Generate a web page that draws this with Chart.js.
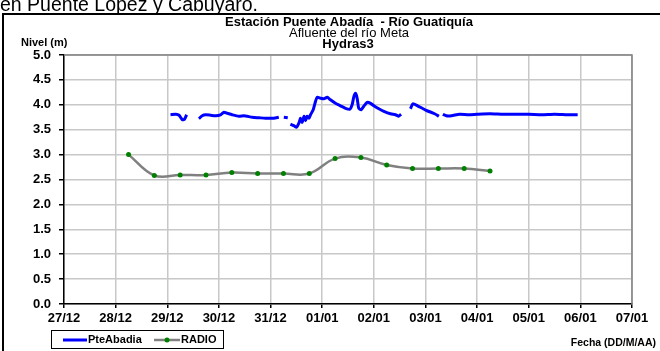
<!DOCTYPE html>
<html lang="es">
<head>
<meta charset="UTF-8">
<title>Estación Puente Abadía - Río Guatiquía</title>
<script src="https://cdn.jsdelivr.net/npm/chart.js"></script>
<style>
  html, body { margin: 0; padding: 0; background: #fff; }
  #wrap { width: 660px; height: 351px; }
</style>
</head>
<body>
<div id="wrap"><canvas id="nivelChart" width="660" height="351"></canvas></div>
<script>
// eje X: un tick por día
const tickLabels = ['27/12', '28/12', '29/12', '30/12', '31/12', '01/01', '02/01', '03/01', '04/01', '05/01', '06/01', '07/01'];
const yTicks = [0, 0.5, 1, 1.5, 2, 2.5, 3, 3.5, 4, 4.5, 5];

// PteAbadia (sensor), null = hueco en el registro
const abadiaTimes = [
  '29/12 01:30', '29/12 04:00', '29/12 05:30', '29/12 07:00', '29/12 08:00', '29/12 09:00',
  '29/12 12:00',
  '29/12 14:40', '29/12 16:15', '29/12 17:50', '29/12 20:10', '29/12 22:30', '30/12 00:45',
  '30/12 02:20', '30/12 03:50', '30/12 06:10', '30/12 09:15', '30/12 11:40', '30/12 13:10',
  '30/12 15:30', '30/12 18:35', '30/12 21:40', '31/12 01:30', '31/12 03:50',
  '31/12 05:00',
  '31/12 06:10', '31/12 08:00',
  '31/12 08:40',
  '31/12 09:15', '31/12 10:50', '31/12 12:05', '31/12 13:10', '31/12 13:55', '31/12 14:45',
  '31/12 15:30', '31/12 16:15', '31/12 17:00', '31/12 17:50', '31/12 18:35', '31/12 19:50',
  '31/12 20:55', '31/12 21:40', '31/12 23:15', '01/01 00:45', '01/01 02:20', '01/01 03:50',
  '01/01 06:10', '01/01 08:30', '01/01 10:50', '01/01 12:50', '01/01 13:55', '01/01 14:45',
  '01/01 15:30', '01/01 16:15', '01/01 17:00', '01/01 18:05', '01/01 19:20', '01/01 20:55',
  '01/01 22:30', '02/01 00:00', '02/01 02:20', '02/01 04:40', '02/01 07:45', '02/01 10:05',
  '02/01 11:35', '02/01 12:40',
  '02/01 15:00',
  '02/01 17:00', '02/01 18:10', '02/01 20:20', '03/01 00:20', '03/01 04:15', '03/01 06:15',
  '03/01 07:10',
  '03/01 08:05', '03/01 09:40', '03/01 12:05', '03/01 15:50', '03/01 20:00', '04/01 00:00',
  '04/01 06:00', '04/01 12:00', '04/01 18:00', '05/01 00:00', '05/01 06:00', '05/01 12:00',
  '05/01 18:00', '05/01 22:45'
];
const abadiaLevels = [
  3.80, 3.81, 3.79, 3.70, 3.71, 3.80,
  null,
  3.72, 3.78, 3.80, 3.79, 3.78, 3.80,
  3.85, 3.83, 3.80, 3.77, 3.78, 3.77,
  3.75, 3.74, 3.73, 3.73, 3.75,
  null,
  3.75, 3.74,
  null,
  3.61, 3.58, 3.55, 3.63, 3.73, 3.65,
  3.77, 3.68, 3.77, 3.73, 3.80, 3.90,
  4.07, 4.15, 4.13, 4.12, 4.15, 4.10,
  4.03, 3.98, 3.93, 3.91, 4.00, 4.17,
  4.23, 4.13, 3.93, 3.90, 3.97, 4.05,
  4.03, 3.98, 3.92, 3.87, 3.82, 3.80,
  3.77, 3.81,
  null,
  3.92, 4.02, 3.98, 3.89, 3.82, 3.77,
  null,
  3.81, 3.78, 3.78, 3.81, 3.80, 3.81,
  3.82, 3.81, 3.81, 3.81, 3.80, 3.81,
  3.80, 3.80
];

// RADIO (lecturas 6am / 6pm)
const radioTimes = [
  '28/12 06:00', '28/12 18:00', '29/12 06:00', '29/12 18:00', '30/12 06:00', '30/12 18:00',
  '31/12 06:00', '31/12 18:00', '01/01 06:00', '01/01 18:00', '02/01 06:00', '02/01 18:00',
  '03/01 06:00', '03/01 18:00', '04/01 06:00'
];
const radioLevels = [3.00, 2.58, 2.59, 2.59, 2.64, 2.62, 2.62, 2.62, 2.92, 2.94, 2.79, 2.72, 2.72, 2.72, 2.67];

const FONT = '"Liberation Sans", Arial, sans-serif';

// "DD/MM HH:MM" -> días desde 27/12 00:00
function toDay(s) {
  const [d, t] = s.split(' ');
  const [dd, mm] = d.split('/').map(Number);
  const [hh, mi] = t.split(':').map(Number);
  const day = mm === 12 ? dd - 27 : dd + 4;
  return day + (hh + mi / 60) / 24;
}

const abadiaData = abadiaTimes.map((t, i) => ({ x: toDay(t), y: abadiaLevels[i] }));
const radioData = radioTimes.map((t, i) => ({ x: toDay(t), y: radioLevels[i] }));

const decor = {
  id: 'decor',
  beforeDraw(chart) {
    const ctx = chart.ctx;
    ctx.save();
    ctx.fillStyle = '#fff';
    ctx.fillRect(0, 0, chart.width, chart.height);
    ctx.restore();
  },
  afterDraw(chart) {
    const ctx = chart.ctx;
    const a = chart.chartArea;
    ctx.save();

    // texto cortado de arriba
    ctx.fillStyle = '#000';
    ctx.font = '19.5px ' + FONT;
    ctx.textAlign = 'left';
    ctx.textBaseline = 'alphabetic';
    ctx.fillText('en Puente López y Cabuyaro.', 0, 11);

    // marco
    ctx.strokeStyle = '#000';
    ctx.lineWidth = 2;
    ctx.strokeRect(3, 14, 700, 400);

    // borde superior y derecho del área
    ctx.strokeStyle = '#808080';
    ctx.lineWidth = 1.5;
    ctx.beginPath();
    ctx.moveTo(a.left, a.top);
    ctx.lineTo(a.right, a.top);
    ctx.lineTo(a.right, a.bottom);
    ctx.stroke();

    // títulos
    ctx.fillStyle = '#000';
    ctx.textAlign = 'center';
    ctx.textBaseline = 'middle';
    ctx.font = 'bold 13px ' + FONT;
    ctx.fillText('Estación Puente Abadía  - Río Guatiquía', 349, 22);
    ctx.font = '13px ' + FONT;
    ctx.fillText('Afluente del río Meta', 349, 33);
    ctx.font = 'bold 13px ' + FONT;
    ctx.fillText('Hydras3', 348, 44);

    ctx.textAlign = 'left';
    ctx.font = 'bold 11px ' + FONT;
    ctx.fillText('Nivel (m)', 21, 43);

    ctx.textAlign = 'right';
    ctx.font = 'bold 10.5px ' + FONT;
    ctx.fillText('Fecha (DD/M/AA)', 656, 343);

    // leyenda
    ctx.strokeStyle = '#000';
    ctx.lineWidth = 1;
    ctx.strokeRect(51.5, 330.5, 172, 18);
    const ly = 340;
    ctx.strokeStyle = '#0000ff';
    ctx.lineWidth = 3;
    ctx.beginPath();
    ctx.moveTo(63, ly);
    ctx.lineTo(87, ly);
    ctx.stroke();
    ctx.strokeStyle = '#808080';
    ctx.lineWidth = 2.5;
    ctx.beginPath();
    ctx.moveTo(154, ly);
    ctx.lineTo(180, ly);
    ctx.stroke();
    ctx.fillStyle = '#008000';
    ctx.beginPath();
    ctx.arc(167, ly, 2.5, 0, Math.PI * 2);
    ctx.fill();
    ctx.fillStyle = '#000';
    ctx.textAlign = 'left';
    ctx.font = 'bold 11px ' + FONT;
    ctx.fillText('PteAbadia', 88, ly);
    ctx.fillText('RADIO', 181, ly);

    ctx.restore();
  }
};

new Chart(document.getElementById('nivelChart'), {
  type: 'line',
  data: {
    datasets: [
      {
        label: 'PteAbadia',
        data: abadiaData,
        borderColor: '#0000ff',
        borderWidth: 3,
        pointRadius: 0,
        tension: 0.2,
        spanGaps: false,
        fill: false
      },
      {
        label: 'RADIO',
        data: radioData,
        borderColor: '#808080',
        borderWidth: 2.5,
        pointRadius: 2.5,
        pointBackgroundColor: '#008000',
        pointBorderColor: '#008000',
        pointBorderWidth: 0,
        tension: 0.4,
        fill: false
      }
    ]
  },
  options: {
    responsive: false,
    animation: false,
    layout: { padding: { left: 0, top: 55, right: 28, bottom: 0 } },
    plugins: {
      legend: { display: false },
      title: { display: false },
      tooltip: { enabled: false }
    },
    scales: {
      x: {
        type: 'linear',
        min: 0,
        max: 11,
        afterFit: s => { s.height = 47; },
        afterBuildTicks: s => { s.ticks = tickLabels.map((_, i) => ({ value: i })); },
        ticks: {
          autoSkip: false,
          maxRotation: 0,
          padding: 3,
          color: '#000',
          font: { family: FONT, size: 13, weight: 'bold' },
          callback: v => tickLabels[v]
        },
        grid: { color: '#c8c8c8', lineWidth: 1.5, tickLength: 4, tickColor: '#000' },
        border: { color: '#000', width: 1.5 }
      },
      y: {
        min: 0,
        max: 5,
        afterFit: s => { s.width = 64; },
        afterBuildTicks: s => { s.ticks = yTicks.map(v => ({ value: v })); },
        ticks: {
          padding: 8,
          color: '#000',
          font: { family: FONT, size: 13, weight: 'bold' },
          callback: v => v.toFixed(1)
        },
        grid: { color: '#c8c8c8', lineWidth: 1.5, tickLength: 5, tickColor: '#000' },
        border: { color: '#000', width: 1.5 }
      }
    }
  },
  plugins: [decor]
});
</script>
</body>
</html>
